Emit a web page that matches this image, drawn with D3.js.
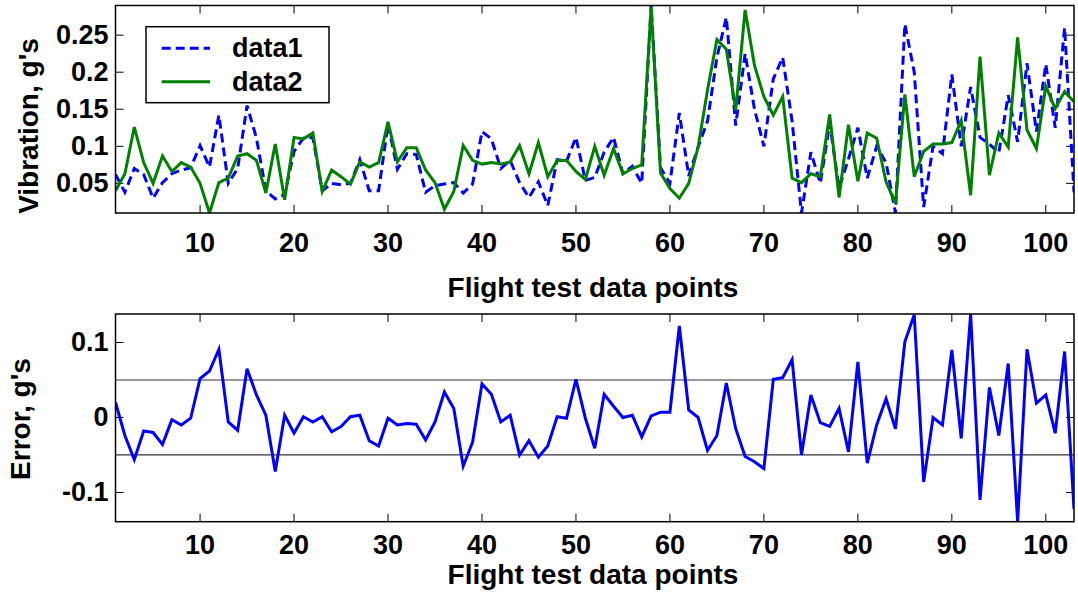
<!DOCTYPE html>
<html>
<head>
<meta charset="utf-8">
<script src="https://cdn.jsdelivr.net/npm/d3@7"></script>
<style>
  body { margin: 0; background: #fff; }
  text { font-family: "Liberation Sans", Arial, sans-serif; font-weight: bold; fill: #000; }
</style>
</head>
<body>
<svg id="chart" width="1078" height="594"></svg>
<script>
// flight test points 1..103
const points = d3.range(1, 104);
const data1 = [0.062,0.038,0.070,0.062,0.030,0.051,0.063,0.068,0.071,0.101,
  0.072,0.142,0.050,0.070,0.155,0.111,0.040,0.029,0.035,0.093,
  0.111,0.112,0.040,0.050,0.048,0.050,0.082,0.040,0.040,0.130,
  0.069,0.090,0.089,0.038,0.047,0.049,0.051,0.037,0.049,0.120,
  0.110,0.070,0.081,0.051,0.031,0.052,0.020,0.082,0.080,0.112,
  0.054,0.058,0.092,0.112,0.063,0.073,0.050,0.290,0.071,0.050,
  0.145,0.060,0.099,0.134,0.220,0.274,0.128,0.225,0.150,0.100,
  0.191,0.220,0.134,0.010,0.092,0.050,0.131,0.044,0.083,0.125,
  0.057,0.100,0.078,0.010,0.265,0.200,0.018,0.100,0.090,0.197,
  0.100,0.180,0.112,0.103,0.091,0.169,0.106,0.212,0.120,0.211,
  0.125,0.260,0.038];
const data2 = [0.040,0.063,0.126,0.078,0.050,0.087,0.066,0.078,0.072,0.050,
  0.010,0.051,0.057,0.087,0.090,0.081,0.037,0.103,0.028,0.112,
  0.110,0.118,0.039,0.068,0.059,0.049,0.079,0.072,0.078,0.133,
  0.079,0.098,0.098,0.068,0.051,0.015,0.039,0.101,0.081,0.076,
  0.078,0.076,0.079,0.101,0.063,0.105,0.059,0.081,0.081,0.066,
  0.055,0.100,0.061,0.097,0.063,0.070,0.075,0.288,0.064,0.043,
  0.030,0.050,0.099,0.176,0.244,0.231,0.149,0.284,0.209,0.167,
  0.142,0.167,0.057,0.051,0.063,0.059,0.143,0.031,0.129,0.053,
  0.118,0.111,0.052,0.023,0.170,0.059,0.093,0.103,0.103,0.105,
  0.135,0.034,0.221,0.061,0.118,0.099,0.247,0.122,0.097,0.181,
  0.151,0.174,0.160];
const errors = [0.020,-0.024,-0.056,-0.018,-0.020,-0.036,-0.003,-0.010,-0.001,0.052,
  0.062,0.091,-0.006,-0.017,0.065,0.030,0.003,-0.072,0.003,-0.021,
  0.001,-0.006,0.001,-0.019,-0.012,0.001,0.003,-0.031,-0.038,-0.001,
  -0.010,-0.008,-0.009,-0.030,-0.006,0.034,0.012,-0.065,-0.033,0.045,
  0.031,-0.006,0.003,-0.050,-0.031,-0.053,-0.038,0.001,-0.001,0.051,
  -0.001,-0.041,0.031,0.015,0.000,0.003,-0.026,0.002,0.007,0.007,
  0.122,0.010,0.000,-0.044,-0.024,0.046,-0.015,-0.052,-0.059,-0.068,
  0.051,0.053,0.077,-0.050,0.030,-0.007,-0.012,0.012,-0.046,0.074,
  -0.061,-0.010,0.025,-0.015,0.101,0.137,-0.086,0.000,-0.010,0.090,
  -0.028,0.138,-0.110,0.040,-0.024,0.072,-0.139,0.091,0.019,0.030,
  -0.021,0.088,-0.122];
const xTicks = [10,20,30,40,50,60,70,80,90,100];
const topTicks = [0.05,0.1,0.15,0.2,0.25];
const topTickLabels = ['0.05','0.1','0.15','0.2','0.25'];
const botTicks = [-0.1,0,0.1];
const botTickLabels = ['-0.1','0','0.1'];
const errBands = [-0.05,0.05];
const seriesNames = ['data1','data2'];

const svg = d3.select('#chart');
const left = 115.5, right = 1074;
const topBox = { y0: 5.5, y1: 213 };
const botBox = { y0: 314, y1: 521.7 };
const tickLen = 8;
const tickFont = 27;

const x = d3.scaleLinear().domain([1, 103]).range([left, right]);
const yTop = d3.scaleLinear().domain(d3.extent(data1.concat(data2))).range([topBox.y1, topBox.y0]);
const yBot = d3.scaleLinear().domain(d3.extent(errors)).range([botBox.y1, botBox.y0]);

function frame(box, y, ticks, labels, id) {
    const g = svg.append('g');
    svg.append('clipPath').attr('id', id)
        .append('rect')
        .attr('x', left).attr('y', box.y0)
        .attr('width', right - left).attr('height', box.y1 - box.y0);
    // x ticks, inside on bottom and top
    xTicks.forEach(t => {
        g.append('line').attr('x1', x(t)).attr('x2', x(t))
            .attr('y1', box.y1).attr('y2', box.y1 - tickLen)
            .attr('stroke', '#000').attr('stroke-width', 1);
        g.append('line').attr('x1', x(t)).attr('x2', x(t))
            .attr('y1', box.y0).attr('y2', box.y0 + tickLen)
            .attr('stroke', '#000').attr('stroke-width', 1);
    });
    ticks.forEach((t, i) => {
        g.append('line').attr('x1', left).attr('x2', left + tickLen)
            .attr('y1', y(t)).attr('y2', y(t))
            .attr('stroke', '#000').attr('stroke-width', 1);
        g.append('line').attr('x1', right).attr('x2', right - tickLen)
            .attr('y1', y(t)).attr('y2', y(t))
            .attr('stroke', '#000').attr('stroke-width', 1);
        g.append('text').attr('x', left - 7).attr('y', y(t))
            .attr('text-anchor', 'end').attr('dominant-baseline', 'central')
            .style('font-size', tickFont + 'px')
            .text(labels[i]);
    });
    return g;
}

function box(b) {
    svg.append('rect')
        .attr('x', left).attr('y', b.y0)
        .attr('width', right - left).attr('height', b.y1 - b.y0)
        .attr('fill', 'none').attr('stroke', '#000').attr('stroke-width', 1.5);
}

// ---- top plot
frame(topBox, yTop, topTicks, topTickLabels, 'clipTop');
const lineTop1 = d3.line().x((d, i) => x(points[i])).y(d => yTop(d));
svg.append('path')
    .datum(data1)
    .attr('clip-path', 'url(#clipTop)')
    .attr('d', lineTop1)
    .attr('fill', 'none')
    .attr('stroke', '#0000ff')
    .attr('stroke-width', 3)
    .attr('stroke-dasharray', '9,5');
svg.append('path')
    .datum(data2)
    .attr('clip-path', 'url(#clipTop)')
    .attr('d', lineTop1)
    .attr('fill', 'none')
    .attr('stroke', '#008000')
    .attr('stroke-width', 3);
box(topBox);

svg.append('g').selectAll('text')
    .data(xTicks).enter()
    .append('text')
    .attr('x', d => x(d)).attr('y', 243)
    .attr('text-anchor', 'middle').attr('dominant-baseline', 'central')
    .style('font-size', tickFont + 'px')
    .text(d => d);
svg.append('text')
    .attr('x', 593).attr('y', 287)
    .attr('text-anchor', 'middle').attr('dominant-baseline', 'central')
    .style('font-size', '28px')
    .text('Flight test data points');
svg.append('text')
    .attr('transform', 'translate(28,126) rotate(-90)')
    .attr('text-anchor', 'middle').attr('dominant-baseline', 'central')
    .style('font-size', '28px')
    .text("Vibration, g's");

// legend
const legend = svg.append('g').attr('transform', 'translate(146,26.7)');
legend.append('rect')
    .attr('width', 183).attr('height', 76)
    .attr('fill', '#fff').attr('stroke', '#000').attr('stroke-width', 1.5);
const legendStyle = [
    { color: '#0000ff', dash: '9,5' },
    { color: '#008000', dash: null }
];
seriesNames.forEach((name, i) => {
    const ly = 21.6 + i * 33.4;
    legend.append('line')
        .attr('x1', 15.7).attr('x2', 64).attr('y1', ly).attr('y2', ly)
        .attr('stroke', legendStyle[i].color).attr('stroke-width', 3)
        .attr('stroke-dasharray', legendStyle[i].dash);
    legend.append('text')
        .attr('x', 86).attr('y', ly)
        .attr('dominant-baseline', 'central')
        .style('font-size', tickFont + 'px')
        .text(name);
});

// ---- bottom plot
frame(botBox, yBot, botTicks, botTickLabels, 'clipBot');
svg.append('g').selectAll('line')
    .data(errBands).enter()
    .append('line')
    .attr('x1', left).attr('x2', right)
    .attr('y1', d => yBot(d)).attr('y2', d => yBot(d))
    .attr('stroke', '#333').attr('stroke-width', 1.2);
const lineBot = d3.line().x((d, i) => x(points[i])).y(d => yBot(d));
svg.append('path')
    .datum(errors)
    .attr('clip-path', 'url(#clipBot)')
    .attr('d', lineBot)
    .attr('fill', 'none')
    .attr('stroke', '#0000ff')
    .attr('stroke-width', 3);
box(botBox);

svg.append('g').selectAll('text')
    .data(xTicks).enter()
    .append('text')
    .attr('x', d => x(d)).attr('y', 545)
    .attr('text-anchor', 'middle').attr('dominant-baseline', 'central')
    .style('font-size', tickFont + 'px')
    .text(d => d);
svg.append('text')
    .attr('x', 593).attr('y', 574)
    .attr('text-anchor', 'middle').attr('dominant-baseline', 'central')
    .style('font-size', '28px')
    .text('Flight test data points');
svg.append('text')
    .attr('transform', 'translate(20,419) rotate(-90)')
    .attr('text-anchor', 'middle').attr('dominant-baseline', 'central')
    .style('font-size', '28px')
    .text("Error, g's");
</script>
</body>
</html>
